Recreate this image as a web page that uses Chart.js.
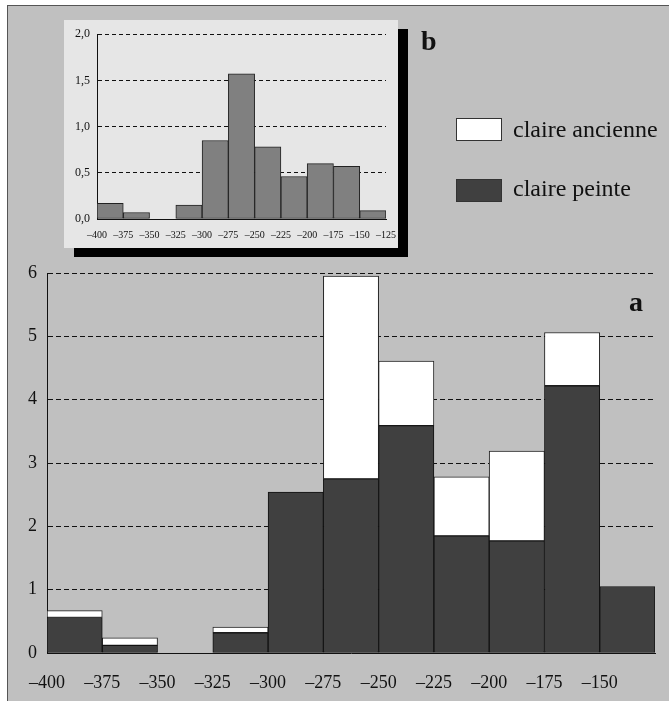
<!DOCTYPE html>
<html>
<head>
<meta charset="utf-8">
<script src="https://cdn.jsdelivr.net/npm/chart.js@4/dist/chart.umd.min.js"></script>
<style>
  html, body { margin: 0; padding: 0; background: #fff; }
  body { width: 669px; height: 701px; position: relative; overflow: hidden; font-family: "Liberation Serif", "DejaVu Serif", serif; }
  #frame { position: absolute; left: 7px; top: 5px; width: 680px; height: 720px; background: #c0c0c0; border-left: 1px solid #555; border-top: 1px solid #555; }
  #main { position: absolute; left: 0; top: 0; }
  #shadow { position: absolute; left: 74px; top: 29px; width: 334px; height: 228px; background: #000; }
  #inset { position: absolute; left: 64px; top: 20px; background: #e6e6e6; }
  .tag { position: absolute; font-weight: bold; font-size: 28px; line-height: 28px; color: #111; }
  .box { position: absolute; left: 456px; width: 44px; height: 21px; border: 1px solid #333; }
  .lbl { position: absolute; left: 513px; font-size: 24px; line-height: 24px; color: #111; }
</style>
</head>
<body>
<div id="frame"></div>
<canvas id="main" width="669" height="701"></canvas>
<div id="shadow"></div>
<canvas id="inset" width="334" height="228"></canvas>
<div class="tag" style="left:421px; top:27px;">b</div>
<div class="tag" style="left:629px; top:288px;">a</div>
<div class="box" id="box0" style="top:118px;"></div>
<div class="lbl" id="lbl0" style="top:117px;"></div>
<div class="box" id="box1" style="top:179px;"></div>
<div class="lbl" id="lbl1" style="top:176px;"></div>

<script>
// bins of 25 units, left edges
let binStarts = [-400, -375, -350, -325, -300, -275, -250, -225, -200, -175, -150];
let binWidth = 25;

// panel a: stacked, peinte at the bottom, ancienne on top
let seriesNames = ["claire ancienne", "claire peinte"];
let peinte   = [0.56, 0.12, 0, 0.32, 2.54, 2.75, 3.59, 1.85, 1.77, 4.22, 1.05];
let ancienne = [0.11, 0.12, 0, 0.09, 0, 3.20, 1.02, 0.93, 1.42, 0.84, 0];

// panel b
let insetValues = [0.17, 0.07, 0, 0.15, 0.85, 1.57, 0.78, 0.46, 0.60, 0.57, 0.09];

let mainXTickLabels  = ["–400", "–375", "–350", "–325", "–300", "–275", "–250", "–225", "–200", "–175", "–150"];
let mainYTickLabels  = ["0", "1", "2", "3", "4", "5", "6"];
let insetXTickLabels = ["–400", "–375", "–350", "–325", "–300", "–275", "–250", "–225", "–200", "–175", "–150", "–125"];
let insetYTickLabels = ["0,0", "0,5", "1,0", "1,5", "2,0"];

let colAncienne = "#ffffff";
let colPeinte = "#404040";
let colInset = "#808080";

function toPoints(values) {
    return values.map((v, i) => ({x: binStarts[i] + binWidth / 2, y: v === 0 ? null : v}));
}

// html legend
document.getElementById("box0").style.background = colAncienne;
document.getElementById("box1").style.background = colPeinte;
document.getElementById("lbl0").textContent = seriesNames[0];
document.getElementById("lbl1").textContent = seriesNames[1];

Chart.defaults.font.family = '"Liberation Serif", "DejaVu Serif", serif';
Chart.defaults.color = "#111";

let xMin = binStarts[0];
let xMax = binStarts[binStarts.length - 1] + binWidth;

let mainChart = new Chart(document.getElementById("main").getContext("2d"), {
    type: "bar",
    data: {
        datasets: [
            {
                label: seriesNames[1],
                data: toPoints(peinte),
                backgroundColor: colPeinte,
                borderColor: "#111",
                borderWidth: 1,
                borderSkipped: false,
                categoryPercentage: 1,
                barPercentage: 1,
            },
            {
                label: seriesNames[0],
                data: toPoints(ancienne),
                backgroundColor: colAncienne,
                borderColor: "#222",
                borderWidth: 1,
                borderSkipped: false,
                categoryPercentage: 1,
                barPercentage: 1,
            },
        ],
    },
    options: {
        responsive: false,
        animation: false,
        layout: {padding: {left: 7, right: 14, top: 273, bottom: 8}},
        plugins: {legend: {display: false}, tooltip: {enabled: false}},
        scales: {
            x: {
                type: "linear",
                stacked: true,
                offset: false,
                min: xMin,
                max: xMax,
                grid: {display: false, drawTicks: false, tickLength: 0},
                border: {color: "#111", width: 1},
                ticks: {
                    stepSize: binWidth,
                    autoSkip: false,
                    maxRotation: 0,
                    padding: 19,
                    font: {size: 18},
                    callback: (v, i) => mainXTickLabels[i] ?? null,
                },
                afterFit: (s) => { s.height = 40; s.paddingRight = 0; },
            },
            y: {
                stacked: true,
                min: 0,
                max: 6,
                z: 1,
                grid: {color: "#111", lineWidth: 1, drawTicks: false},
                border: {color: "#111", width: 1, dash: [5, 3]},
                ticks: {
                    stepSize: 1,
                    padding: 10,
                    font: {size: 18},
                    callback: (v, i) => mainYTickLabels[i],
                },
                afterFit: (s) => { s.width = 40; },
            },
        },
    },
});

let insetChart = new Chart(document.getElementById("inset").getContext("2d"), {
    type: "bar",
    data: {
        datasets: [{
            label: "b",
            data: toPoints(insetValues),
            backgroundColor: colInset,
            borderColor: "#222",
            borderWidth: 1,
            borderSkipped: false,
            categoryPercentage: 1,
            barPercentage: 1,
        }],
    },
    options: {
        responsive: false,
        animation: false,
        layout: {padding: {left: 7, right: 0, top: 9, bottom: 7}},
        plugins: {legend: {display: false}, tooltip: {enabled: false}},
        scales: {
            x: {
                type: "linear",
                offset: false,
                min: xMin,
                max: xMax,
                grid: {display: false, drawTicks: false, tickLength: 0},
                border: {color: "#111", width: 1},
                ticks: {
                    stepSize: binWidth,
                    autoSkip: false,
                    maxRotation: 0,
                    padding: 10,
                    font: {size: 10},
                    callback: (v, i) => insetXTickLabels[i] ?? null,
                },
                afterFit: (s) => { s.height = 22; s.paddingRight = 12; },
            },
            y: {
                min: 0,
                max: 2,
                z: 1,
                grid: {color: "#111", lineWidth: 1, drawTicks: false},
                border: {color: "#111", width: 1, dash: [4, 3]},
                ticks: {
                    stepSize: 0.5,
                    padding: 7,
                    font: {size: 12},
                    callback: (v, i) => insetYTickLabels[i],
                },
                afterFit: (s) => { s.width = 26; },
            },
        },
    },
});
</script>
</body>
</html>
